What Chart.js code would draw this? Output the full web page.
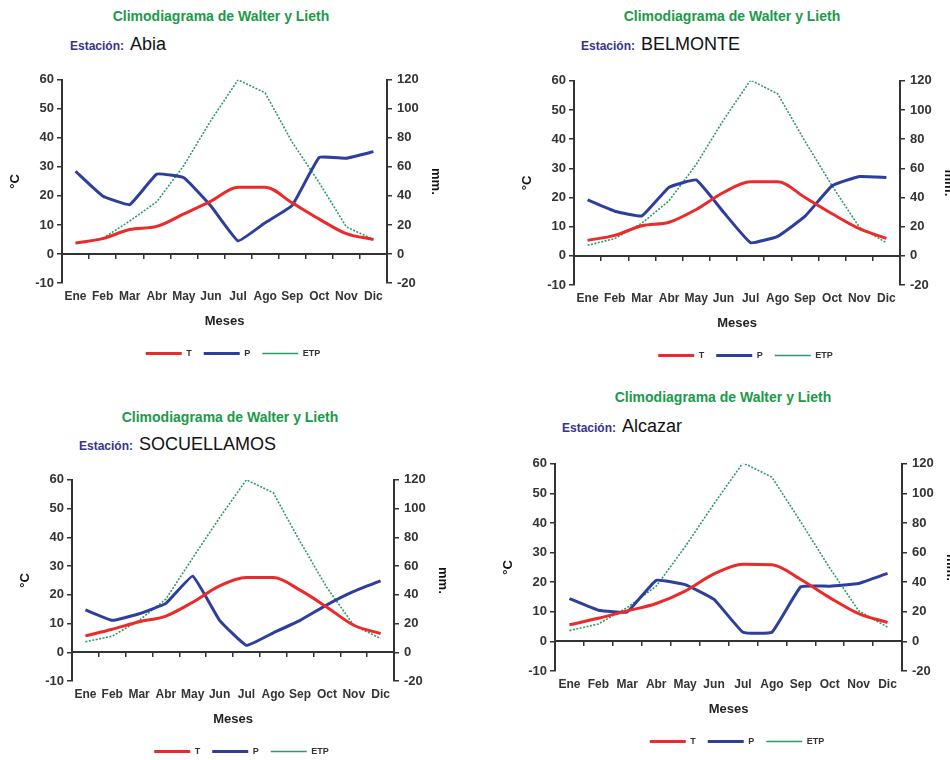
<!DOCTYPE html>
<html>
<head>
<meta charset="utf-8">
<script src="https://cdn.jsdelivr.net/npm/chart.js@4.4.1/dist/chart.umd.min.js"></script>
<style>
  html, body { margin:0; padding:0; width:950px; height:760px; overflow:hidden; background:#fff; }
  body { position:relative; font-family:'Liberation Sans', Arial, sans-serif; }
  canvas { position:absolute; }
  .ttl { position:absolute; transform:translate(-50%,-50%); white-space:nowrap;
         font-weight:bold; font-size:14px; color:#1a9a48; }
  .est { position:absolute; white-space:nowrap; line-height:22px; }
  .est .lbl { font-weight:bold; font-size:12px; color:#34348c; }
  .est .nm { font-size:18px; color:#111; margin-left:6px; }
</style>
</head>
<body>
<script>
// ---- data ----
const months = ['Ene','Feb','Mar','Abr','May','Jun','Jul','Ago','Sep','Oct','Nov','Dic'];
const stations = ['Abia','BELMONTE','SOCUELLAMOS','Alcazar'];
const seriesNames = ['T','P','ETP'];
const tempTicks = [-10,0,10,20,30,40,50,60];
const precTicks = [-20,0,20,40,60,80,100,120];

const tAbia   = [3.8, 5.3, 8.4, 9.5, 13.8, 18.2, 23.0, 23.0, 17.6, 12.0, 7.0, 5.0];
const pAbia   = [57, 40, 34, 55, 52.5, 33, 9, 21.5, 33.5, 66.5, 66, 70.5];
const etpAbia = [7.5, 10.7, 22.7, 36, 61, 92, 120, 111, 77, 49, 18.6, 10];

const tBelmonte   = [5.3, 7.0, 10.3, 11.5, 15.9, 21.7, 25.4, 25.4, 20.0, 14.4, 9.3, 6.0];
const pBelmonte   = [38.3, 30.6, 27.4, 47, 52, 30, 9, 13.4, 27, 48, 54.4, 53.7];
const etpBelmonte = [7.2, 11.8, 22.4, 37.8, 62.7, 93, 120.5, 111, 78.6, 48, 19.7, 9];

const tSocuellamos   = [5.7, 8.0, 10.6, 12.6, 17.4, 23.1, 26.0, 26.0, 21.6, 15.7, 9.4, 6.5];
const pSocuellamos   = [29.5, 22.2, 26.8, 34, 53, 22.2, 4.8, 13.5, 22.2, 33, 42.3, 49.7];
const etpSocuellamos = [7.3, 11.2, 22.2, 37, 65.7, 93.6, 120, 111, 77, 45, 18.8, 9.6];

const tAlcazar   = [5.6, 7.8, 10.3, 12.8, 17.0, 22.8, 26.1, 25.9, 20.9, 14.8, 9.4, 6.4];
const pAlcazar   = [28.9, 21.1, 20, 41.3, 38.4, 28.4, 6.2, 6.2, 36.9, 37.3, 39.1, 46];
const etpAlcazar = [7.3, 11.8, 22.9, 37.3, 64, 93, 120.7, 111, 80.7, 49.6, 20.7, 9.6];

const stationData = [
  [tAbia, pAbia, etpAbia],
  [tBelmonte, pBelmonte, etpBelmonte],
  [tSocuellamos, pSocuellamos, etpSocuellamos],
  [tAlcazar, pAlcazar, etpAlcazar]
];

// ---- layout (page pixels of each plot area and header) ----
const panels = [
  {L:62,  R:387, T:77,  B:283, titleX:221, titleY:16,  estX:70,  estY:33},
  {L:574, R:900, T:78,  B:285, titleX:732, titleY:16,  estX:581, estY:33},
  {L:72,  R:394, T:477, B:681, titleX:230, titleY:417, estX:79,  estY:433},
  {L:555, R:902, T:461, B:671, titleX:723, titleY:397, estX:562, estY:415}
];
const WL = 62, WR = 79, PADT = 10, HB = 54, LEGH = 31;

Chart.defaults.font.family = "'Liberation Sans', Arial, sans-serif";
Chart.defaults.color = '#333';

const AX = '#333';

panels.forEach((p, i) => {
  const t = document.createElement('div');
  t.className = 'ttl';
  t.style.left = p.titleX + 'px';
  t.style.top = p.titleY + 'px';
  t.textContent = 'Climodiagrama de Walter y Lieth';
  document.body.appendChild(t);

  const e = document.createElement('div');
  e.className = 'est';
  e.style.left = p.estX + 'px';
  e.style.top = p.estY + 'px';
  e.innerHTML = '<span class="lbl">Estación:</span><span class="nm"></span>';
  e.querySelector('.nm').textContent = stations[i];
  document.body.appendChild(e);

  const c = document.createElement('canvas');
  const w = WL + (p.R - p.L) + WR;
  const h = PADT + (p.B - p.T) + HB + LEGH;
  c.width = w; c.height = h;
  c.style.left = (p.L - WL) + 'px';
  c.style.top = (p.T - PADT) + 'px';
  c.style.width = w + 'px'; c.style.height = h + 'px';
  document.body.appendChild(c);

  const [tv, pv, ev] = stationData[i];
  new Chart(c, {
    type: 'line',
    data: {
      labels: months,
      datasets: [
        {label: seriesNames[0], data: tv, yAxisID: 'y', xAxisID: 'x', borderColor: '#ec2a2a', backgroundColor: '#ec2a2a',
         borderWidth: 3, pointRadius: 0, cubicInterpolationMode: 'monotone'},
        {label: seriesNames[1], data: pv, yAxisID: 'y1', xAxisID: 'x', borderColor: '#2d3e9c', backgroundColor: '#2d3e9c',
         borderWidth: 3, pointRadius: 0, tension: 0.1},
        {label: seriesNames[2], data: ev, yAxisID: 'y1', xAxisID: 'x', borderColor: '#2f9a68', backgroundColor: '#2f9a68',
         borderWidth: 1.6, borderDash: [2, 1.5], pointRadius: 0, tension: 0}
      ]
    },
    options: {
      responsive: false,
      animation: false,
      devicePixelRatio: 1,
      layout: {padding: {top: PADT, left: 0, right: 0, bottom: 0}},
      plugins: {
        tooltip: {enabled: false},
        legend: {
          position: 'bottom',
          labels: {
            usePointStyle: true, pointStyle: 'line', pointStyleWidth: 36,
            padding: 12, color: '#333',
            font: {size: 9, weight: 'bold'}
          }
        }
      },
      scales: {
        x: {
          type: 'category', position: {y: 0}, offset: true,
          ticks: {display: false},
          grid: {display: true, drawOnChartArea: false, drawTicks: true, tickLength: 4, color: AX, lineWidth: 1.5, offset: true},
          border: {display: true, color: AX, width: 2}
        },
        x2: {
          type: 'category', position: 'bottom', offset: true,
          grid: {display: false, drawTicks: false},
          border: {display: false},
          ticks: {autoSkip: false, maxRotation: 0, minRotation: 0, padding: 6, color: '#333', font: {size: 12, weight: 'bold'}},
          title: {display: true, text: 'Meses', color: '#222', font: {size: 13, weight: 'bold'}, padding: {top: 0, bottom: 7.8}},
          afterFit: s => { s.height = HB; }
        },
        y: {
          position: 'left',
          min: tempTicks[0], max: tempTicks[tempTicks.length - 1],
          ticks: {stepSize: tempTicks[1] - tempTicks[0], padding: 3, color: '#333', font: {size: 13, weight: 'bold'}},
          grid: {display: true, drawOnChartArea: false, drawTicks: true, tickLength: 5, color: AX, lineWidth: 1.5},
          border: {display: true, color: AX, width: 2},
          title: {display: true, text: '°C', color: '#111', font: {size: 13, weight: 'bold'}, padding: {top: 7.2, bottom: 0}},
          afterFit: s => { s.width = WL; }
        },
        y1: {
          position: 'right',
          min: precTicks[0], max: precTicks[precTicks.length - 1],
          ticks: {stepSize: precTicks[1] - precTicks[0], padding: 5, color: '#333', font: {size: 13, weight: 'bold'}},
          grid: {display: true, drawOnChartArea: false, drawTicks: true, tickLength: 5, color: AX, lineWidth: 1.5},
          border: {display: true, color: AX, width: 2},
          title: {display: true, text: 'mm.', color: '#111', font: {size: 13, weight: 'bold'}, padding: {top: 22.2, bottom: 0}},
          afterFit: s => { s.width = WR; }
        }
      }
    }
  });
});
</script>
</body>
</html>
